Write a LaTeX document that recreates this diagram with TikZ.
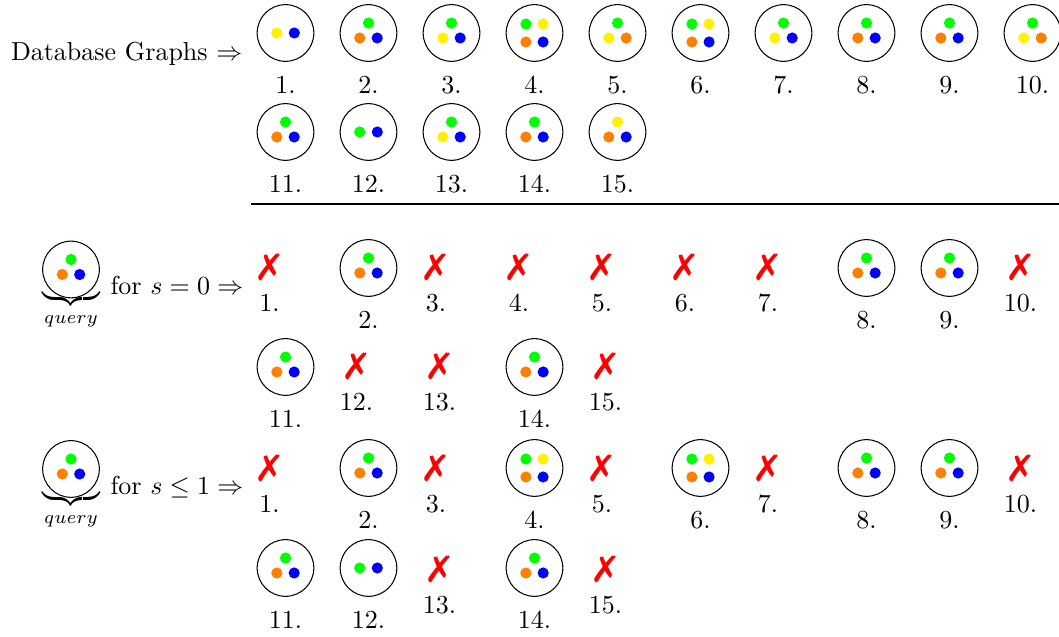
\documentclass[tikz,border=0pt]{standalone}
\usepackage{fontspec}
\newfontfamily\symfont{DejaVu Sans}
\usetikzlibrary{calc}
\tikzset{
  gc/.style={circle, draw, line width=0.4pt, minimum size=21.8pt, inner sep=0pt},
  dot/.style={circle, fill=#1, draw=none, minimum size=4.3pt, inner sep=0pt},
  lab/.style={anchor=base, inner sep=0pt},
  xm/.style={text=red, font=\symfont\fontsize{14}{14}\selectfont, inner sep=0pt},
  txt/.style={anchor=base west, inner sep=0pt}
}
\newcommand\Gtwo[4]{\node[gc] (#1) at (#2) {};
  \path (#1) ++(-8.8,0) node[dot=#3] (#1a) {};
  \path (#1) ++(8.8,0) node[dot=#4] (#1b) {};}
\newcommand\Gthree[5]{\node[gc] (#1) at (#2) {};
  \path (#1) ++(0,-10) node[dot=#3] (#1a) {};
  \path (#1) ++(-8.7,5) node[dot=#4] (#1b) {};
  \path (#1) ++(8.7,5) node[dot=#5] (#1c) {};}
\newcommand\Gfour[6]{\node[gc] (#1) at (#2) {};
  \path (#1) ++(-8.6,-9) node[dot=#3] (#1a) {};
  \path (#1) ++(8.6,-9) node[dot=#4] (#1b) {};
  \path (#1) ++(-8.6,9) node[dot=#5] (#1c) {};
  \path (#1) ++(8.6,9) node[dot=#6] (#1d) {};}
\newcommand\Lab[3]{\node[lab] (#1) at (#2) {#3};}
\newcommand\Cross[3]{\node[xm] (#1) at (#2) {✗};
  \path (#1) ++(0,45) node[lab] (#1l) {#3};}
\begin{document}
\begin{tikzpicture}[x=0.3846pt,y=-0.3846pt]
\useasboundingbox (0,0) rectangle (1059,637);
% ---------- Database graphs ----------
\node[txt] (dbt) at (10.5,61) {Database Graphs $\Rightarrow$};
\Gtwo{d1}{285.5,33}{yellow}{blue}
\Gthree{d2}{368.5,33}{green}{orange}{blue}
\Gthree{d3}{451.5,33}{green}{yellow}{blue}
\Gfour{d4}{534.5,33}{green}{yellow}{orange}{blue}
\Gthree{d5}{617.5,33}{green}{yellow}{orange}
\Gfour{d6}{700.5,33}{green}{yellow}{orange}{blue}
\Gthree{d7}{783.5,33}{green}{yellow}{blue}
\Gthree{d8}{866.5,33}{green}{orange}{blue}
\Gthree{d9}{949.5,33}{green}{orange}{blue}
\Gthree{d10}{1032.5,33}{green}{yellow}{orange}
\Lab{dl1}{285.5,94}{1.}
\Lab{dl2}{368.5,94}{2.}
\Lab{dl3}{451.5,94}{3.}
\Lab{dl4}{534.5,94}{4.}
\Lab{dl5}{617.5,94}{5.}
\Lab{dl6}{700.5,94}{6.}
\Lab{dl7}{783.5,94}{7.}
\Lab{dl8}{866.5,94}{8.}
\Lab{dl9}{949.5,94}{9.}
\Lab{dl10}{1032.5,94}{10.}
\Gthree{d11}{285.5,132}{green}{orange}{blue}
\Gtwo{d12}{368.5,132}{green}{blue}
\Gthree{d13}{451.5,132}{green}{yellow}{blue}
\Gthree{d14}{534.5,132}{green}{orange}{blue}
\Gthree{d15}{617.5,132}{yellow}{orange}{blue}
\Lab{dl11}{285.5,193}{11.}
\Lab{dl12}{368.5,193}{12.}
\Lab{dl13}{451.5,193}{13.}
\Lab{dl14}{534.5,193}{14.}
\Lab{dl15}{617.5,193}{15.}
\coordinate (r1) at (251,204);
\coordinate (r2) at (1059,204);
\draw[line width=0.4pt] (r1) -- (r2);
% ---------- s = 0 ----------
\Gthree{q0}{71,269.5}{green}{orange}{blue}
\node[anchor=north, inner sep=0pt] (qb0) at (71,289) {$\underbrace{\hspace{22.3pt}}_{query}$};
\node[txt] (t0) at (110,295) {for $s=0\Rightarrow$};
\Cross{a1}{269.5,267}{1.}
\Gthree{a2}{368.5,268}{green}{orange}{blue}
\Lab{al2}{368.5,329}{2.}
\Cross{a3}{436,267}{3.}
\Cross{a4}{519,267}{4.}
\Cross{a5}{602,267}{5.}
\Cross{a6}{685,267}{6.}
\Cross{a7}{768,267}{7.}
\Gthree{a8}{866.5,268}{green}{orange}{blue}
\Lab{al8}{866.5,329}{8.}
\Gthree{a9}{949.5,268}{green}{orange}{blue}
\Lab{al9}{949.5,329}{9.}
\Cross{a10}{1020.5,267}{10.}
\Gthree{a11}{285.5,367}{green}{orange}{blue}
\Lab{al11}{285.5,428}{11.}
\Cross{a12}{356.5,366}{12.}
\Cross{a13}{439.5,366}{13.}
\Gthree{a14}{534.5,367}{green}{orange}{blue}
\Lab{al14}{534.5,428}{14.}
\Cross{a15}{605.5,366}{15.}
% ---------- s <= 1 ----------
\Gthree{q1}{71,469}{green}{orange}{blue}
\node[anchor=north, inner sep=0pt] (qb1) at (71,489) {$\underbrace{\hspace{22.3pt}}_{query}$};
\node[txt] (t1) at (110,495) {for $s\le1\Rightarrow$};
\Cross{b1}{269.5,468}{1.}
\Gthree{b2}{368.5,468}{green}{orange}{blue}
\Lab{bl2}{368.5,529}{2.}
\Cross{b3}{436,468}{3.}
\Gfour{b4}{534.5,468}{green}{yellow}{orange}{blue}
\Lab{bl4}{534.5,529}{4.}
\Cross{b5}{602,468}{5.}
\Gfour{b6}{700.5,468}{green}{yellow}{orange}{blue}
\Lab{bl6}{700.5,529}{6.}
\Cross{b7}{768,468}{7.}
\Gthree{b8}{866.5,468}{green}{orange}{blue}
\Lab{bl8}{866.5,529}{8.}
\Gthree{b9}{949.5,468}{green}{orange}{blue}
\Lab{bl9}{949.5,529}{9.}
\Cross{b10}{1020.5,468}{10.}
\Gthree{b11}{285.5,568}{green}{orange}{blue}
\Lab{bl11}{285.5,629}{11.}
\Gtwo{b12}{368.5,568}{green}{blue}
\Lab{bl12}{368.5,629}{12.}
\Cross{b13}{439.5,569}{13.}
\Gthree{b14}{534.5,568}{green}{orange}{blue}
\Lab{bl14}{534.5,629}{14.}
\Cross{b15}{605.5,569}{15.}
\end{tikzpicture}
\end{document}
